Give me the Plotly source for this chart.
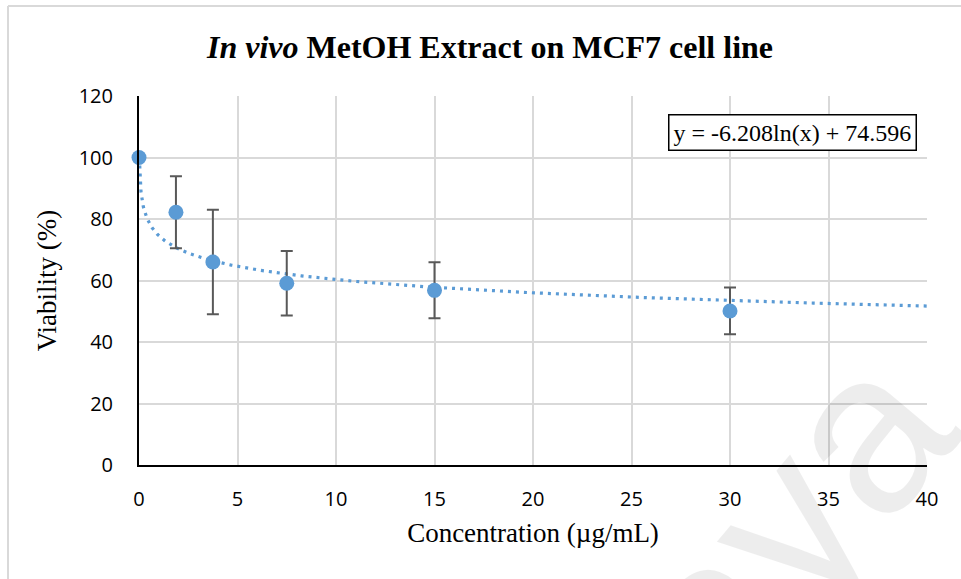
import numpy as np
import plotly.graph_objects as go

# Concentration (µg/mL) and mean viability (%) with standard deviation
concentration = [0, 1.875, 3.75, 7.5, 15, 30]
viability = [100, 82.2, 66.0, 59.1, 56.8, 50.1]
viability_sd = [0, 11.7, 17.0, 10.5, 9.1, 7.6]

# Logarithmic trendline coefficients: y = a*ln(x) + b
trend_a = -6.208
trend_b = 74.596
trend_label = "y = -6.208ln(x) + 74.596"

x_ticks = [0, 5, 10, 15, 20, 25, 30, 35, 40]
y_ticks = [0, 20, 40, 60, 80, 100, 120]

BLUE = "#5b9bd5"
GRID = "#d9d9d9"

# Trendline evaluated from where it crosses 100 % up to the end of the axis
x_start = np.exp((100 - trend_b) / trend_a)
trend_x = np.geomspace(x_start, 40, 400)
trend_y = trend_a * np.log(trend_x) + trend_b

fig = go.Figure()

fig.add_trace(go.Scatter(
    x=trend_x, y=trend_y, mode="lines",
    line=dict(color=BLUE, width=3.2, dash="3px,5px"),
    hoverinfo="skip", showlegend=False,
))

fig.add_trace(go.Scatter(
    x=concentration, y=viability, mode="markers",
    marker=dict(color=BLUE, size=15),
    error_y=dict(type="data", array=viability_sd, visible=True,
                 color="#595959", thickness=2, width=6),
    cliponaxis=False, showlegend=False,
))

fig.update_layout(
    width=961, height=579,
    margin=dict(l=139, r=34, t=96, b=114),
    paper_bgcolor="white", plot_bgcolor="white",
    title=dict(
        text="<i>In vivo</i> MetOH Extract on MCF7 cell line",
        font=dict(family="Liberation Serif", size=32, color="black", weight="bold"),
        x=490 / 961, xanchor="center", xref="container",
        y=1 - 47 / 579, yanchor="middle", yref="container",
    ),
    xaxis=dict(
        range=[0, 40], tickvals=x_ticks, ticktext=[str(v) for v in x_ticks],
        showgrid=True, gridcolor=GRID, gridwidth=2,
        showline=True, linecolor="black", linewidth=2,
        zeroline=False, ticks="", ticklabelstandoff=15,
        tickfont=dict(family="Open Sans", size=20, color="black"),
        title=dict(text="Concentration (µg/mL)", standoff=12,
                   font=dict(family="Liberation Serif", size=27, color="black")),
    ),
    yaxis=dict(
        range=[0, 120], tickvals=y_ticks, ticktext=[str(v) for v in y_ticks],
        showgrid=True, gridcolor=GRID, gridwidth=2,
        showline=True, linecolor="black", linewidth=2,
        zeroline=False, ticks="", ticklabelstandoff=20,
        tickfont=dict(family="Open Sans", size=20, color="black"),
        title=dict(text="Viability (%)", standoff=14,
                   font=dict(family="Liberation Serif", size=27, color="black")),
    ),
)

def px_x(p):
    return (p - 139) / 788

def px_y(p):
    return (465 - p) / 369

# Trendline equation box
fig.add_annotation(
    x=px_x(792), y=px_y(132), xref="paper", yref="paper",
    xanchor="center", yanchor="middle",
    text=trend_label, showarrow=False,
    font=dict(family="Liberation Serif", size=24, color="black"),
    bgcolor="white", bordercolor="black", borderwidth=1.5, borderpad=4,
)

# Faint diagonal watermark running off the lower-right corner
fig.add_annotation(
    x=px_x(785), y=px_y(525), xref="paper", yref="paper",
    xanchor="center", yanchor="middle",
    text="aya", showarrow=False, textangle=-50,
    font=dict(family="Liberation Sans", size=230, color="rgba(0,0,0,0.07)"),
)

# Thin chart-area frame along the top and left edges
fig.add_shape(type="line", xref="paper", yref="paper",
              x0=px_x(8), y0=px_y(6), x1=px_x(961), y1=px_y(6),
              line=dict(color=GRID, width=2))
fig.add_shape(type="line", xref="paper", yref="paper",
              x0=px_x(8), y0=px_y(6), x1=px_x(8), y1=px_y(579),
              line=dict(color=GRID, width=2))

fig.write_html("out.html")
